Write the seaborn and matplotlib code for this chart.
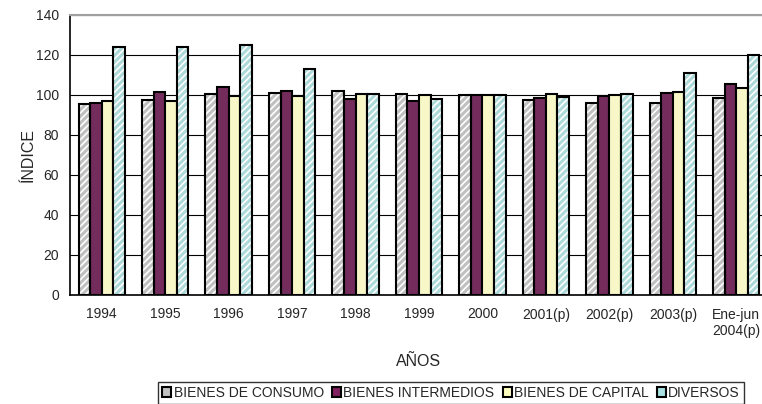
import matplotlib
matplotlib.use("Agg")
import matplotlib.pyplot as plt
from matplotlib.patches import Rectangle, Patch
import numpy as np
import pandas as pd
import seaborn as sns

# ------------------------------------------------------------------
# Data
# ------------------------------------------------------------------
anios = ["1994", "1995", "1996", "1997", "1998", "1999", "2000",
         "2001(p)", "2002(p)", "2003(p)", "Ene-jun\n2004(p)"]
series = ["BIENES DE CONSUMO", "BIENES INTERMEDIOS", "BIENES DE CAPITAL", "DIVERSOS"]

consumo = [95.3, 97.5, 100.3, 101.2, 102.2, 100.5, 100.0, 97.7, 96.0, 96.0, 98.7]
intermedios = [96.2, 101.7, 104.0, 102.2, 98.0, 96.8, 100.0, 98.3, 99.3, 101.0, 105.5]
capital = [97.2, 97.2, 99.3, 99.5, 100.7, 100.0, 100.0, 100.3, 100.2, 101.3, 103.5]
diversos = [123.8, 123.8, 125.2, 113.2, 100.3, 97.8, 100.0, 99.0, 100.5, 110.8, 120.0]

COLORS = ["#C0C0C0", "#802060", "#FFFFC0", "#A6E0E0"]
HATCHED = [True, False, False, True]

df = pd.DataFrame({
    "anio": np.tile(anios, 4),
    "serie": np.repeat(series, len(anios)),
    "valor": consumo + intermedios + capital + diversos,
})

# ------------------------------------------------------------------
# Plot
# ------------------------------------------------------------------
sns.set_style("white")
plt.rcParams["font.family"] = ["Liberation Sans", "DejaVu Sans"]
plt.rcParams["hatch.linewidth"] = 1.2

fig = plt.figure(figsize=(7.62, 4.04), dpi=100)
ax = fig.add_axes([70 / 762, 1 - 295 / 404, 698 / 762, 280 / 404])

sns.barplot(data=df, x="anio", y="valor", hue="serie", order=anios,
            hue_order=series, palette=COLORS, width=0.73, gap=0,
            edgecolor="black", linewidth=1.5, legend=False, ax=ax, zorder=3)

# hatched series: white stripes on the fill, black outline on top
n = len(anios)
bars = list(ax.patches)
for i, p in enumerate(bars):
    s = i // n
    if HATCHED[s]:
        p.set_hatch("/////")
        p.set_edgecolor("white")
        p.set_linewidth(0)
        ax.add_patch(Rectangle(p.get_xy(), p.get_width(), p.get_height(),
                               fill=False, edgecolor="black", linewidth=1.5,
                               zorder=4))

ax.set_ylim(0, 140)
ax.set_xlim(-0.5, n - 0.5)
ax.set_yticks(range(0, 141, 20))
ax.yaxis.grid(True, color="black", linewidth=0.8)
ax.set_axisbelow(True)

ax.set_xticks(range(n))
ax.set_xticklabels(anios, fontsize=10)
ax.set_xticks(np.arange(-0.5, n, 1), minor=True)
ax.tick_params(axis="x", which="major", length=0, pad=9)
ax.tick_params(axis="x", which="minor", length=5, width=1, color="black", direction="out")
ax.tick_params(axis="y", length=5, width=1, color="black", direction="out", labelsize=10, pad=3)

for side in ["left", "bottom"]:
    ax.spines[side].set_color("black")
    ax.spines[side].set_linewidth(1.2)
ax.spines["top"].set_color("#A0A0A0")
ax.spines["top"].set_linewidth(1.5)
ax.spines["right"].set_visible(False)

ax.set_xlabel("AÑOS", fontsize=11.5, labelpad=12)
ax.set_ylabel("ÍNDICE", fontsize=11.5, labelpad=0)

handles = [Patch(facecolor=c, edgecolor="black", linewidth=1.5) for c in COLORS]
leg = fig.legend(handles, series, loc="center", bbox_to_anchor=(451 / 762, 1 - 393 / 404),
                 ncol=4, fontsize=10, frameon=True, fancybox=False,
                 handlelength=0.65, handleheight=0.65, handletextpad=0.15,
                 columnspacing=0.6, borderpad=0.3, borderaxespad=0)
leg.get_frame().set_edgecolor("black")
leg.get_frame().set_linewidth(1.0)

fig.savefig("out.png", dpi=100)
